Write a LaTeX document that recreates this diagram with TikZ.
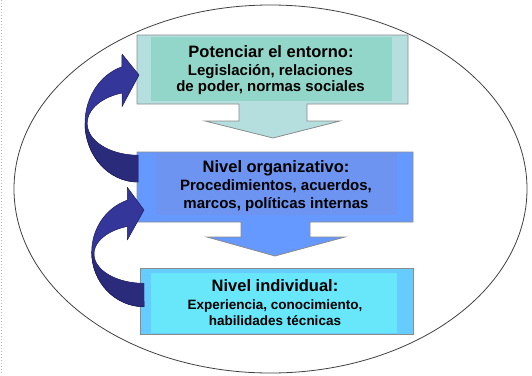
\documentclass[tikz,border=0pt]{standalone}
\usepackage{fontspec}
\setmainfont{Liberation Sans}
\definecolor{tealout}{HTML}{B5DEDF}
\definecolor{tealin}{HTML}{92D5C9}
\definecolor{blueout}{HTML}{6699FF}
\definecolor{bluein}{HTML}{6C94F0}
\definecolor{cyanout}{HTML}{66CCFF}
\definecolor{cyanin}{HTML}{68E6FA}
\definecolor{arrowmid}{HTML}{34369A}
\definecolor{arrowback}{HTML}{2A2B7A}
\definecolor{arrowedge}{HTML}{1C1D55}
\tikzset{
  boxline/.style={draw=black!45, line width=0.8pt},
  ttl/.style={font=\bfseries\fontsize{16.5}{18}\selectfont, anchor=base, inner sep=0pt},
  subl/.style={font=\bfseries\fontsize{15}{17}\selectfont, anchor=base, inner sep=0pt},
  subsm/.style={font=\bfseries\fontsize{13.5}{15}\selectfont, anchor=base, inner sep=0pt},
  curvarrow/.style={fill=arrowmid, draw=arrowedge, line width=0.5pt, line join=round},
  curvback/.style={fill=arrowback},
}
\begin{document}
\begin{tikzpicture}[x=1pt,y=-1pt]
\useasboundingbox (0,0) rectangle (532,375);
% left dotted border
\draw[black!30, line width=1pt, dash pattern=on 1pt off 2pt] (1,0) -- (1,375);
% ellipse
\draw[black!75, line width=0.8pt] (270.5,189) ellipse [x radius=256.5, y radius=184];

% box 1 with down arrow
\path[boxline, fill=tealout] (137,35) -- (408,35) -- (408,104) -- (307,104) -- (307,121)
  -- (340,121) -- (273,138) -- (205,121) -- (239,121) -- (239,104) -- (137,104) -- cycle;
\fill[tealin] (151,37) rectangle (392,101);
% box 2 with down arrow
\path[boxline, fill=blueout] (137,152) -- (413,152) -- (413,222) -- (310,222) -- (310,237)
  -- (345,237) -- (275,256) -- (207,237) -- (241,237) -- (241,222) -- (137,222) -- cycle;
\fill[bluein] (156,152.5) rectangle (397,215);
% box 3
\path[boxline, fill=cyanout] (140,268) rectangle (413,334);
\fill[cyanin] (151,273) rectangle (397,333);

% texts
\node[ttl]  (t1)  at (271,57)   {Potenciar el entorno:};
\node[subl] (t1a) at (270.5,75) {Legislación, relaciones};
\node[subl] (t1b) at (270.5,91) {de poder, normas sociales};
\node[ttl]  (t2)  at (276,172)  {Nivel organizativo:};
\node[subl] (t2a) at (276,190)  {Procedimientos, acuerdos,};
\node[subl] (t2b) at (276,208)  {marcos, políticas internas};
\node[ttl]  (t3)  at (275,291.5){Nivel individual:};
\node[subsm](t3a) at (275,309)  {Experiencia, conocimiento,};
\node[subsm](t3b) at (275,325)  {habilidades técnicas};

% curved arrow 1 (box 2 -> box 1)
\path[curvarrow] (138,182) arc[start angle=90, end angle=252.4, x radius=53, y radius=59]
  -- (122,54) -- (139,75) -- (122,106.7) -- (122,93)
  arc[start angle=251.5, end angle=90, x radius=51, y radius=32] -- cycle;
\path[curvback] (85,123) arc[start angle=180, end angle=90, x radius=53, y radius=59]
  -- (138,155) arc[start angle=90, end angle=180, x radius=51, y radius=32] -- cycle;
\draw[arrowedge, line width=0.5pt] (138,182) arc[start angle=90, end angle=180, x radius=53, y radius=59];

% curved arrow 2 (box 3 -> box 2)
\path[curvarrow] (144,306.7) arc[start angle=90, end angle=251.4, x radius=52.3, y radius=54.7]
  -- (127.3,187.3) -- (144,210) -- (127.3,240) -- (127.3,226.4)
  arc[start angle=250.5, end angle=90, x radius=50, y radius=29.3] -- cycle;
\path[curvback] (91.7,252) arc[start angle=180, end angle=90, x radius=52.3, y radius=54.7]
  -- (144,283.3) arc[start angle=90, end angle=180, x radius=50, y radius=29.3] -- cycle;
\draw[arrowedge, line width=0.5pt] (144,306.7) arc[start angle=90, end angle=180, x radius=52.3, y radius=54.7];
\end{tikzpicture}
\end{document}
